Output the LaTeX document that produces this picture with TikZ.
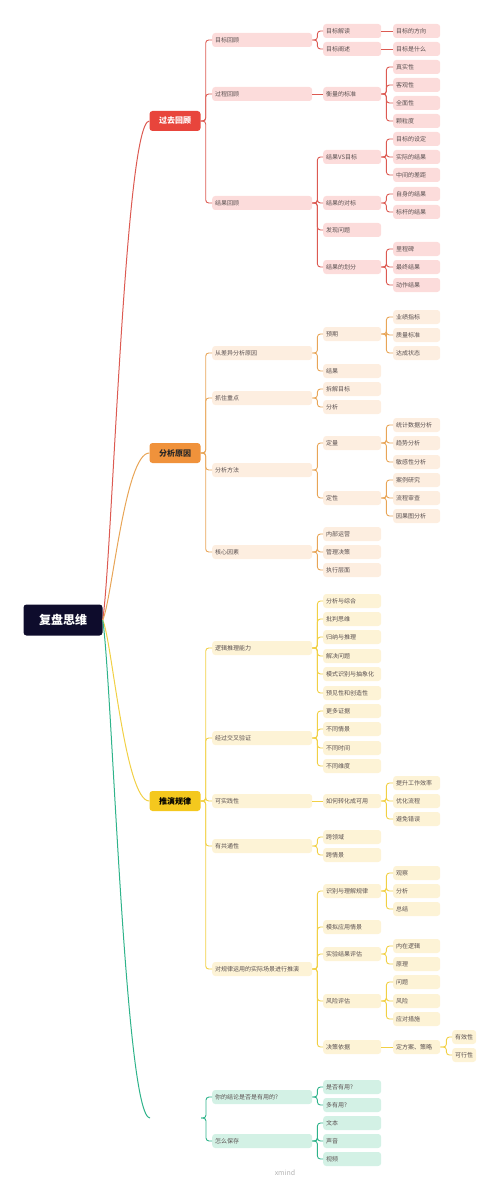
\documentclass[tikz,border=0pt]{standalone}
\usepackage{fontspec}
\newfontfamily\cjk{Noto Sans CJK SC}
\definecolor{rootcol}{HTML}{0E0C2C}
\definecolor{redmain}{HTML}{E8453C}
\definecolor{redline}{HTML}{DC5A52}
\definecolor{redbox}{HTML}{FCDCDB}
\definecolor{orgmain}{HTML}{F0923B}
\definecolor{orgline}{HTML}{E8A557}
\definecolor{orgbox}{HTML}{FDEEE0}
\definecolor{yelmain}{HTML}{F4C81E}
\definecolor{yelline}{HTML}{F1D045}
\definecolor{yelbox}{HTML}{FDF3D6}
\definecolor{grnline}{HTML}{2EB38A}
\definecolor{grnbox}{HTML}{D3F1E5}
\definecolor{leaftext}{HTML}{5A5050}

\tikzset{
  leaf/.style={rounded corners=3pt, anchor=west, minimum height=14pt,
               inner xsep=3pt, inner ysep=0pt, align=left, text=leaftext,
               font=\cjk\fontsize{6}{7}\selectfont},
  lvtwo/.style={leaf, text width=94pt},
  lvthree/.style={leaf, text width=52pt},
  lvfour/.style={leaf, text width=41pt},
  lvfive/.style={leaf, text width=18pt},
  topic/.style={rounded corners=3pt, minimum width=51pt, minimum height=20pt,
                font=\cjk\bfseries\fontsize{8}{9}\selectfont},
  link/.style={rounded corners=3pt, line width=0.9pt},
  trunk/.style={line width=1pt},
}

\begin{document}
\begin{tikzpicture}[x=1pt, y=-1pt]
\useasboundingbox (0,0) rectangle (500,1182);

% koren
\node[fill=rootcol, text=white, rounded corners=3pt, minimum width=79pt,
      minimum height=31pt, font=\cjk\bfseries\fontsize{12}{14}\selectfont] (root) at (63,620) {复盘思维};

% hlavni vetve
\node[topic, fill=redmain, text=white] (gqhg) at (175,121) {过去回顾};
\node[topic, fill=orgmain, text=black!85] (fxyy) at (175,453) {分析原因};
\node[topic, fill=yelmain, text=black] (tygl) at (175,801) {推演规律};
\coordinate (cdl) at (150,1118);
\coordinate (cdr) at (201,1118);

\draw[trunk, redline] (root.east) .. controls (112,560) and (125,121) .. (gqhg.west);
\draw[trunk, orgline] (root.east) .. controls (112,600) and (125,453) .. (fxyy.west);
\draw[trunk, yelline] (root.east) .. controls (112,640) and (125,801) .. (tygl.west);
\draw[trunk, grnline] (root.east) .. controls (112,680) and (125,1118) .. (cdl);

% cervena vetev
\node[lvtwo, fill=redbox] (mbhg) at (212,40) {目标回顾};
\node[lvtwo, fill=redbox] (gchg) at (212,94) {过程回顾};
\node[lvtwo, fill=redbox] (jghg) at (212,203) {结果回顾};
\node[lvthree, fill=redbox] (mbjd) at (323,31) {目标解读};
\node[lvthree, fill=redbox] (mbcs) at (323,49) {目标阐述};
\node[lvthree, fill=redbox] (hlbz) at (323,94) {衡量的标准};
\node[lvthree, fill=redbox] (jgvs) at (323,157) {结果VS目标};
\node[lvthree, fill=redbox] (jgdb) at (323,203) {结果的对标};
\node[lvthree, fill=redbox] (fxwt) at (323,230) {发现问题};
\node[lvthree, fill=redbox] (jghf) at (323,267) {结果的划分};
\node[lvfour, fill=redbox] (mbfx) at (393,31) {目标的方向};
\node[lvfour, fill=redbox] (mbsm) at (393,49) {目标是什么};
\node[lvfour, fill=redbox] (zsx) at (393,67) {真实性};
\node[lvfour, fill=redbox] (kgx) at (393,85) {客观性};
\node[lvfour, fill=redbox] (qmx) at (393,103) {全面性};
\node[lvfour, fill=redbox] (kld) at (393,121) {颗粒度};
\node[lvfour, fill=redbox] (mbsd) at (393,139) {目标的设定};
\node[lvfour, fill=redbox] (sjjg) at (393,157) {实际的结果};
\node[lvfour, fill=redbox] (zjcj) at (393,175) {中间的差距};
\node[lvfour, fill=redbox] (zsjg) at (393,194) {自身的结果};
\node[lvfour, fill=redbox] (bgjg) at (393,212) {标杆的结果};
\node[lvfour, fill=redbox] (lcb) at (393,249) {里程碑};
\node[lvfour, fill=redbox] (zzjg) at (393,267) {最终结果};
\node[lvfour, fill=redbox] (dzjg) at (393,285) {动作结果};

\foreach \c in {mbhg,gchg,jghg} \draw[trunk, link, redline] (gqhg.east) -- ++(5,0) |- (\c.west);
\foreach \c in {mbjd,mbcs} \draw[link, redline] (mbhg.east) -- ++(5,0) |- (\c.west);
\draw[link, redline] (gchg.east) -- (hlbz.west);
\foreach \c in {jgvs,jgdb,fxwt,jghf} \draw[link, redline] (jghg.east) -- ++(5,0) |- (\c.west);
\draw[link, redline] (mbjd.east) -- (mbfx.west);
\draw[link, redline] (mbcs.east) -- (mbsm.west);
\foreach \c in {zsx,kgx,qmx,kld} \draw[link, redline] (hlbz.east) -- ++(5,0) |- (\c.west);
\foreach \c in {mbsd,sjjg,zjcj} \draw[link, redline] (jgvs.east) -- ++(5,0) |- (\c.west);
\foreach \c in {zsjg,bgjg} \draw[link, redline] (jgdb.east) -- ++(5,0) |- (\c.west);
\foreach \c in {lcb,zzjg,dzjg} \draw[link, redline] (jghf.east) -- ++(5,0) |- (\c.west);

% oranzova vetev
\node[lvtwo, fill=orgbox] (cyfx) at (212,353) {从差异分析原因};
\node[lvtwo, fill=orgbox] (zzzd) at (212,398) {抓住重点};
\node[lvtwo, fill=orgbox] (fxff) at (212,470) {分析方法};
\node[lvtwo, fill=orgbox] (hxys) at (212,552) {核心因素};
\node[lvthree, fill=orgbox] (yq) at (323,334) {预期};
\node[lvthree, fill=orgbox] (jg) at (323,371) {结果};
\node[lvthree, fill=orgbox] (cjmb) at (323,389) {拆解目标};
\node[lvthree, fill=orgbox] (fxzd) at (323,407) {分析};
\node[lvthree, fill=orgbox] (dl) at (323,443) {定量};
\node[lvthree, fill=orgbox] (dx) at (323,498) {定性};
\node[lvthree, fill=orgbox] (nbyy) at (323,534) {内部运营};
\node[lvthree, fill=orgbox] (gljc) at (323,552) {管理决策};
\node[lvthree, fill=orgbox] (zxcm) at (323,570) {执行层面};
\node[lvfour, fill=orgbox] (yjzb) at (393,317) {业绩指标};
\node[lvfour, fill=orgbox] (zlbz) at (393,335) {质量标准};
\node[lvfour, fill=orgbox] (dczt) at (393,353) {达成状态};
\node[lvfour, fill=orgbox] (tjsj) at (393,425) {统计数据分析};
\node[lvfour, fill=orgbox] (qsfx) at (393,443) {趋势分析};
\node[lvfour, fill=orgbox] (mgxf) at (393,462) {敏感性分析};
\node[lvfour, fill=orgbox] (alyj) at (393,480) {案例研究};
\node[lvfour, fill=orgbox] (lcsc) at (393,498) {流程审查};
\node[lvfour, fill=orgbox] (ygtf) at (393,516) {因果图分析};

\foreach \c in {cyfx,zzzd,fxff,hxys} \draw[trunk, link, orgline] (fxyy.east) -- ++(5,0) |- (\c.west);
\foreach \c in {yq,jg} \draw[link, orgline] (cyfx.east) -- ++(5,0) |- (\c.west);
\foreach \c in {cjmb,fxzd} \draw[link, orgline] (zzzd.east) -- ++(5,0) |- (\c.west);
\foreach \c in {dl,dx} \draw[link, orgline] (fxff.east) -- ++(5,0) |- (\c.west);
\foreach \c in {nbyy,gljc,zxcm} \draw[link, orgline] (hxys.east) -- ++(5,0) |- (\c.west);
\foreach \c in {yjzb,zlbz,dczt} \draw[link, orgline] (yq.east) -- ++(5,0) |- (\c.west);
\foreach \c in {tjsj,qsfx,mgxf} \draw[link, orgline] (dl.east) -- ++(5,0) |- (\c.west);
\foreach \c in {alyj,lcsc,ygtf} \draw[link, orgline] (dx.east) -- ++(5,0) |- (\c.west);

% zluta vetev
\node[lvtwo, fill=yelbox] (ljtl) at (212,648) {逻辑推理能力};
\node[lvtwo, fill=yelbox] (jgyz) at (212,738) {经过交叉验证};
\node[lvtwo, fill=yelbox] (ksjx) at (212,801) {可实践性};
\node[lvtwo, fill=yelbox] (ygtx) at (212,846) {有共通性};
\node[lvtwo, fill=yelbox] (gltx) at (212,969) {对规律运用的实际场景进行推演};
\node[lvthree, fill=yelbox] (fxzh) at (323,601) {分析与综合};
\node[lvthree, fill=yelbox] (ppsw) at (323,619) {批判思维};
\node[lvthree, fill=yelbox] (gntl) at (323,637) {归纳与推理};
\node[lvthree, fill=yelbox] (jjwt) at (323,656) {解决问题};
\node[lvthree, fill=yelbox] (msbs) at (323,674) {模式识别与抽象化};
\node[lvthree, fill=yelbox] (yjcz) at (323,693) {预见性和创造性};
\node[lvthree, fill=yelbox] (gdzj) at (323,711) {更多证据};
\node[lvthree, fill=yelbox] (btqj) at (323,729) {不同情景};
\node[lvthree, fill=yelbox] (btsj) at (323,748) {不同时间};
\node[lvthree, fill=yelbox] (btwd) at (323,766) {不同维度};
\node[lvthree, fill=yelbox] (rhzh) at (323,801) {如何转化成可用};
\node[lvthree, fill=yelbox] (kly) at (323,837) {跨领域};
\node[lvthree, fill=yelbox] (kqj) at (323,855) {跨情景};
\node[lvthree, fill=yelbox] (sblj) at (323,891) {识别与理解规律};
\node[lvthree, fill=yelbox] (mnyy) at (323,927) {模拟应用情景};
\node[lvthree, fill=yelbox] (syjg) at (323,954) {实验结果评估};
\node[lvthree, fill=yelbox] (fxpg) at (323,1001) {风险评估};
\node[lvthree, fill=yelbox] (jcyj) at (323,1047) {决策依据};
\node[lvfour, fill=yelbox] (tsxl) at (393,783) {提升工作效率};
\node[lvfour, fill=yelbox] (yhlc) at (393,801) {优化流程};
\node[lvfour, fill=yelbox] (bmcw) at (393,819) {避免错误};
\node[lvfour, fill=yelbox] (gc) at (393,873) {观察};
\node[lvfour, fill=yelbox] (fxgl) at (393,891) {分析};
\node[lvfour, fill=yelbox] (zj) at (393,909) {总结};
\node[lvfour, fill=yelbox] (nzlj) at (393,946) {内在逻辑};
\node[lvfour, fill=yelbox] (yl) at (393,964) {原理};
\node[lvfour, fill=yelbox] (wt) at (393,982) {问题};
\node[lvfour, fill=yelbox] (fx) at (393,1001) {风险};
\node[lvfour, fill=yelbox] (ydcs) at (393,1019) {应对措施};
\node[lvfour, fill=yelbox] (dfa) at (393,1047) {定方案、策略};
\node[lvfive, fill=yelbox] (yxx) at (452,1037) {有效性};
\node[lvfive, fill=yelbox] (kxx) at (452,1055) {可行性};

\foreach \c in {ljtl,jgyz,ksjx,ygtx,gltx} \draw[trunk, link, yelline] (tygl.east) -- ++(5,0) |- (\c.west);
\foreach \c in {fxzh,ppsw,gntl,jjwt,msbs,yjcz} \draw[link, yelline] (ljtl.east) -- ++(5,0) |- (\c.west);
\foreach \c in {gdzj,btqj,btsj,btwd} \draw[link, yelline] (jgyz.east) -- ++(5,0) |- (\c.west);
\draw[link, yelline] (ksjx.east) -- (rhzh.west);
\foreach \c in {kly,kqj} \draw[link, yelline] (ygtx.east) -- ++(5,0) |- (\c.west);
\foreach \c in {sblj,mnyy,syjg,fxpg,jcyj} \draw[link, yelline] (gltx.east) -- ++(5,0) |- (\c.west);
\foreach \c in {tsxl,yhlc,bmcw} \draw[link, yelline] (rhzh.east) -- ++(5,0) |- (\c.west);
\foreach \c in {gc,fxgl,zj} \draw[link, yelline] (sblj.east) -- ++(5,0) |- (\c.west);
\foreach \c in {nzlj,yl} \draw[link, yelline] (syjg.east) -- ++(5,0) |- (\c.west);
\foreach \c in {wt,fx,ydcs} \draw[link, yelline] (fxpg.east) -- ++(5,0) |- (\c.west);
\draw[link, yelline] (jcyj.east) -- (dfa.west);
\foreach \c in {yxx,kxx} \draw[link, yelline] (dfa.east) -- ++(6,0) |- (\c.west);

% zelena vetev
\node[lvtwo, fill=grnbox] (jlyy) at (212,1097) {你的结论是否是有用的?};
\node[lvtwo, fill=grnbox] (zmbc) at (212,1141) {怎么保存};
\node[lvthree, fill=grnbox] (sfyy) at (323,1087) {是否有用?};
\node[lvthree, fill=grnbox] (dyy) at (323,1105) {多有用?};
\node[lvthree, fill=grnbox] (wb) at (323,1123) {文本};
\node[lvthree, fill=grnbox] (sy) at (323,1141) {声音};
\node[lvthree, fill=grnbox] (sp) at (323,1159) {视频};

\foreach \c in {jlyy,zmbc} \draw[trunk, link, grnline] (cdr) -- ++(5,0) |- (\c.west);
\foreach \c in {sfyy,dyy} \draw[link, grnline] (jlyy.east) -- ++(5,0) |- (\c.west);
\foreach \c in {wb,sy,sp} \draw[link, grnline] (zmbc.east) -- ++(5,0) |- (\c.west);

% vodoznak
\node[text=black!30, font=\cjk\fontsize{7}{8}\selectfont] (xmind) at (285,1173) {xmind};

\end{tikzpicture}
\end{document}
